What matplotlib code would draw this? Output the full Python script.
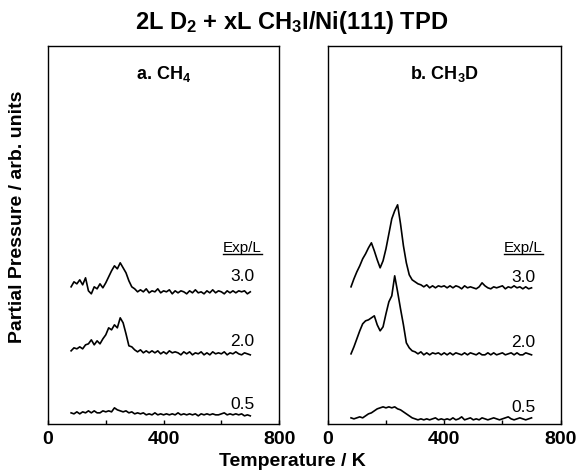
import matplotlib
matplotlib.use("Agg")
import matplotlib.pyplot as plt
from matplotlib.lines import Line2D

plt.rcParams['font.family'] = ['Liberation Sans', 'DejaVu Sans']
plt.rcParams['mathtext.fontset'] = 'custom'
plt.rcParams['mathtext.rm'] = 'Liberation Sans:bold'
plt.rcParams['mathtext.it'] = 'Liberation Sans:bold'
plt.rcParams['mathtext.bf'] = 'Liberation Sans:bold'

# temperature grid of the traced spectra (K)
temps = list(range(80, 701, 10))

# traces (arb. units, offsets included)
ch4_30 = [137, 142, 140, 144, 139, 146, 133, 130, 137, 135, 140, 136, 141, 147, 153, 158,
          155, 161, 156, 151, 143, 137, 135, 132, 134, 132, 135, 131, 133, 132, 135, 131,
          133, 132, 134, 130, 133, 131, 133, 132, 130, 133, 131, 134, 131, 132, 130, 133,
          131, 134, 131, 133, 132, 130, 133, 131, 133, 131, 133, 132, 133, 130, 132]
ch4_20 = [73, 76, 75, 77, 75, 79, 80, 84, 79, 83, 80, 85, 89, 96, 94, 99,
          96, 106, 101, 90, 78, 77, 74, 72, 74, 71, 73, 71, 73, 71, 73, 70,
          72, 70, 73, 71, 72, 71, 69, 72, 70, 72, 69, 71, 70, 72, 69, 71,
          69, 72, 70, 71, 70, 72, 69, 71, 70, 72, 70, 69, 71, 70, 69]
ch4_05 = [11, 10, 12, 10, 12, 11, 13, 11, 13, 11, 11, 13, 12, 13, 12, 16,
          14, 13, 12, 13, 11, 12, 10, 11, 10, 11, 9, 10, 9, 11, 9, 10,
          9, 10, 9, 10, 9, 11, 9, 10, 9, 10, 9, 10, 8, 10, 9, 10,
          9, 10, 9, 9, 10, 11, 9, 10, 9, 10, 9, 10, 8, 9, 8]

ch3d_30 = [137, 145, 152, 158, 165, 170, 176, 181, 173, 164, 156, 163, 175, 190, 205, 213,
           219, 200, 178, 161, 149, 144, 142, 140, 139, 137, 139, 136, 138, 136, 138, 137,
           138, 136, 138, 136, 138, 137, 135, 138, 136, 137, 136, 135, 137, 141, 138, 136,
           135, 137, 136, 137, 138, 135, 137, 136, 138, 136, 137, 135, 137, 135, 136]
ch3d_20 = [70, 77, 85, 93, 100, 103, 104, 106, 108, 99, 93, 97, 110, 122, 128, 148,
           132, 115, 99, 81, 76, 73, 72, 70, 72, 69, 71, 69, 71, 70, 71, 69,
           71, 69, 71, 69, 71, 70, 69, 71, 69, 71, 70, 69, 71, 69, 69, 71,
           69, 71, 69, 70, 71, 69, 70, 71, 69, 71, 69, 69, 71, 70, 69]
ch3d_05 = [6, 5, 6, 7, 6, 8, 10, 11, 13, 15, 16, 17, 16, 17, 16, 17,
           15, 14, 12, 10, 8, 6, 5, 4, 5, 4, 5, 4, 5, 6, 4, 5,
           4, 5, 4, 6, 4, 5, 7, 4, 5, 6, 4, 5, 4, 6, 5, 4,
           5, 6, 5, 4, 5, 6, 7, 5, 4, 5, 6, 5, 4, 5, 6]

exposures = ['3.0', '2.0', '0.5']
label_levels_a = [147, 82, 19]
label_levels_b = [146, 81, 16]
panel_titles = ['a. CH$_4$', 'b. CH$_3$D']
xticks = [0, 400, 800]

fig = plt.figure(figsize=(5.78, 4.72), dpi=100)
ax1 = fig.add_axes([0.083, 0.102, 0.400, 0.801])
ax2 = fig.add_axes([0.567, 0.102, 0.403, 0.801])

panels = [(ax1, [ch4_30, ch4_20, ch4_05], label_levels_a, panel_titles[0]),
          (ax2, [ch3d_30, ch3d_20, ch3d_05], label_levels_b, panel_titles[1])]

for ax, traces, levels, ttl in panels:
    for tr in traces:
        ax.plot(temps, tr, color='black', lw=1.2)
    for lab, lev in zip(exposures, levels):
        ax.text(672, lev, lab, ha='center', va='center', fontsize=12.5)
    ax.set_xlim(0, 800)
    ax.set_ylim(0, 378)
    ax.set_xticks(xticks)
    ax.set_xticks([200, 600], minor=True)
    ax.set_xticklabels([str(v) for v in xticks], fontweight='bold', fontsize=14)
    ax.tick_params(axis='x', which='both', direction='in', length=3, width=1, pad=5)
    ax.set_yticks([])
    for s in ax.spines.values():
        s.set_linewidth(1.0)
    ax.text(0.5, 0.925, ttl, transform=ax.transAxes, ha='center', va='center',
            fontsize=13, fontweight='bold')

fig.text(0.505, 0.953, '2L D$_2$ + xL CH$_3$I/Ni(111) TPD', ha='center', va='center',
         fontsize=17, fontweight='bold')
fig.text(0.505, 0.022, 'Temperature / K', ha='center', va='center',
         fontsize=14, fontweight='bold')
fig.text(0.03, 0.54, 'Partial Pressure / arb. units', ha='center', va='center',
         rotation=90, fontsize=14, fontweight='bold')

# "Exp/L" headers, underlined
heads = [ax1.text(672, 176, 'Exp/L', ha='center', va='center', fontsize=11),
         ax2.text(672, 176, 'Exp/L', ha='center', va='center', fontsize=11)]
fig.canvas.draw()
r = fig.canvas.get_renderer()
for h in heads:
    bb = h.get_window_extent(r).transformed(fig.transFigure.inverted())
    fig.add_artist(Line2D([bb.x0, bb.x1], [bb.y0 + 0.002, bb.y0 + 0.002],
                          transform=fig.transFigure, color='black', lw=1.0))

fig.savefig('out.png', dpi=100)
